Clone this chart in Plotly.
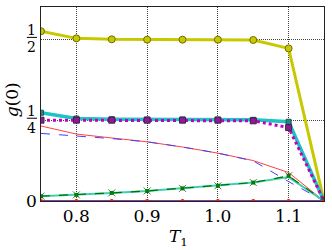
import plotly.graph_objects as go

T1 = [0.75, 0.80, 0.85, 0.90, 0.95, 1.00, 1.05, 1.10, 1.15]
g_yellow = [0.525, 0.503, 0.500, 0.499, 0.499, 0.499, 0.498, 0.472, 0.0]
g_cyan = [0.273, 0.255, 0.253, 0.252, 0.252, 0.252, 0.251, 0.245, 0.0]
g_magenta = [0.250, 0.250, 0.250, 0.250, 0.250, 0.250, 0.248, 0.227, 0.0]
g_red = [0.232, 0.207, 0.195, 0.183, 0.167, 0.148, 0.125, 0.088, 0.0]
g_blue = [0.209, 0.202, 0.193, 0.183, 0.167, 0.148, 0.124, 0.060, 0.0]
g_teal = [0.015, 0.019, 0.025, 0.031, 0.039, 0.047, 0.057, 0.074, 0.0]
g_green = [0.015, 0.019, 0.025, 0.031, 0.039, 0.047, 0.057, 0.078, 0.0]
g_zero = [0.0] * 9

x_ticks = [0.8, 0.9, 1.0, 1.1]
x_labels = ["0.8", "0.9", "1.0", "1.1"]
y_ticks = [0, 0.25, 0.5]
y_fracs = [("1", "2", 0.5), ("1", "4", 0.25)]
y_zero_label = "0"

SERIF = "DejaVu Serif"

fig = go.Figure()
fig.add_trace(go.Scatter(x=T1, y=g_yellow, mode="lines+markers",
                         line=dict(color="#c8c800", width=3),
                         marker=dict(symbol="circle", size=7, color="#c8c800",
                                     line=dict(color="#6e6e00", width=1))))
fig.add_trace(go.Scatter(x=T1, y=g_cyan, mode="lines+markers",
                         line=dict(color="#1cc4c4", width=3.5),
                         marker=dict(symbol="square", size=5, color="#109090",
                                     line=dict(color="#305050", width=1))))
fig.add_trace(go.Scatter(x=T1, y=g_magenta, mode="lines+markers",
                         line=dict(color="#c000c0", width=3, dash="dot"),
                         marker=dict(symbol="square", size=6, color="#8a1a9a",
                                     line=dict(color="#402040", width=1))))
fig.add_trace(go.Scatter(x=T1, y=g_red, mode="lines",
                         line=dict(color="#ff4040", width=1)))
fig.add_trace(go.Scatter(x=T1, y=g_blue, mode="lines",
                         line=dict(color="#4040ff", width=1, dash="dash")))
fig.add_trace(go.Scatter(x=T1, y=g_teal, mode="lines",
                         line=dict(color="#40d0b0", width=2)))
fig.add_trace(go.Scatter(x=T1, y=g_green, mode="lines+markers",
                         line=dict(color="#007000", width=1.2, dash="dash"),
                         marker=dict(symbol="x-thin", size=7, color="#007000",
                                     line=dict(color="#607060", width=1))))
fig.add_trace(go.Scatter(x=T1, y=g_green, mode="markers",
                         marker=dict(symbol="square", size=4, color="#008000")))
fig.add_trace(go.Scatter(x=T1, y=g_zero, mode="lines+markers",
                         line=dict(color="#8040a0", width=2),
                         marker=dict(symbol="circle", size=4, color="#e02020")))

for num, den, yv in y_fracs:
    fig.add_annotation(x=-0.032, xref="paper", y=yv, yref="y", text=num,
                       showarrow=False, yshift=9, xanchor="center", yanchor="middle",
                       font=dict(family=SERIF, size=14, color="black"))
    fig.add_annotation(x=-0.032, xref="paper", y=yv, yref="y", text=den,
                       showarrow=False, yshift=-8, xanchor="center", yanchor="middle",
                       font=dict(family=SERIF, size=14, color="black"))
    fig.add_shape(type="line", xref="paper", yref="y", x0=-0.05, x1=-0.014,
                  y0=yv + 0.006, y1=yv + 0.006, line=dict(color="black", width=1))

fig.add_annotation(x=-0.008, xref="paper", y=0, yref="y", text=y_zero_label,
                   showarrow=False, xanchor="right", yanchor="middle",
                   font=dict(family=SERIF, size=17, color="black"))
fig.add_annotation(x=-0.102, xref="paper", y=0.52, yref="paper", text="<i>g</i>(0)",
                   textangle=-90, showarrow=False, xanchor="center", yanchor="middle",
                   font=dict(family=SERIF, size=17, color="black"))
fig.add_annotation(x=0.485, xref="paper", y=-0.12, yref="paper",
                   text="<i>T</i><sub>1</sub>", showarrow=False,
                   xanchor="center", yanchor="top",
                   font=dict(family=SERIF, size=17, color="black"))

fig.update_layout(
    width=332, height=250, showlegend=False,
    margin=dict(l=41, r=8, t=7, b=49),
    plot_bgcolor="white", paper_bgcolor="white",
    font=dict(family=SERIF, size=17, color="black"),
)
fig.update_xaxes(range=[0.75, 1.15], tickvals=x_ticks, ticktext=x_labels,
                 showgrid=True, gridcolor="#444", griddash="1px,1px", gridwidth=1,
                 showline=True, linecolor="#222", linewidth=1, mirror=True,
                 zeroline=False, ticks="", automargin=False,
                 tickfont=dict(family=SERIF, size=17))
fig.update_yaxes(range=[0, 0.6], tickvals=y_ticks, showticklabels=False,
                 showgrid=True, gridcolor="#444", griddash="1px,1px", gridwidth=1,
                 showline=True, linecolor="#222", linewidth=1, mirror=True,
                 zeroline=False, ticks="", automargin=False)

fig.write_html("out.html", config={"displayModeBar": False},
               post_script="document.body.style.margin='0';")
